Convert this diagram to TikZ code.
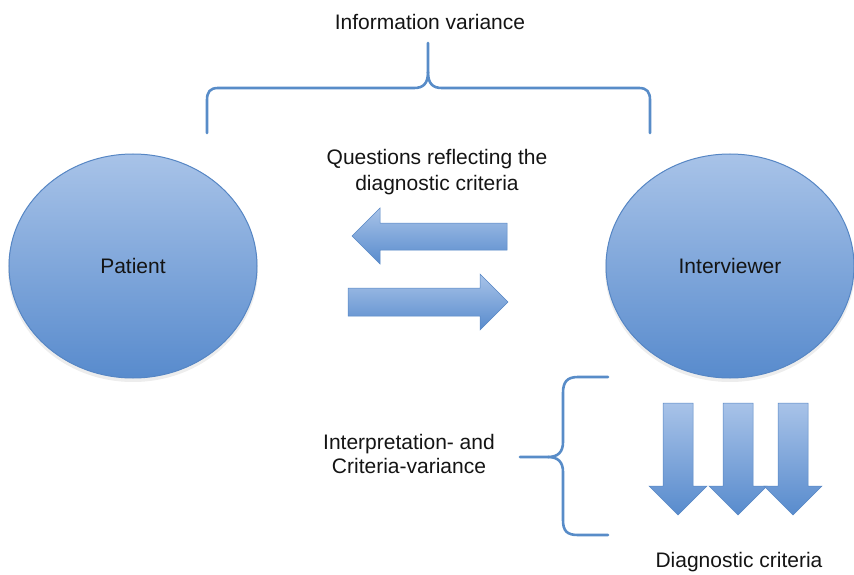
\documentclass[tikz,border=0pt]{standalone}
\usepackage{fontspec}
\setmainfont{Liberation Sans}
\usetikzlibrary{shapes.geometric}
\definecolor{blobtop}{RGB}{168,195,232}
\definecolor{blobbot}{RGB}{88,139,205}
\definecolor{blobline}{RGB}{86,134,196}
\definecolor{bracecol}{RGB}{88,140,200}
\definecolor{ink}{RGB}{20,20,20}
\tikzset{
  blob/.style={ellipse, draw=blobline, line width=1pt, top color=blobtop,
    bottom color=blobbot, minimum width=248pt, minimum height=224pt,
    text=ink, font=\fontsize{21}{25}\selectfont},
  blockarrow/.style={draw=blobline, line width=0.5pt, top color=blobtop,
    bottom color=blobbot},
  bracket/.style={draw=bracecol, line width=2.6pt, line cap=round, line join=round},
  label/.style={text=ink, align=center, inner sep=0pt},
  shade below/.style={fill=black, opacity=0.07},
}
\begin{document}
\begin{tikzpicture}[x=1pt, y=-1pt]
\useasboundingbox (0,0) rectangle (854,575);

% soft shadows under the two participants
\fill[shade below] (133,269) ellipse [x radius=125pt, y radius=113pt];
\fill[shade below] (730,269) ellipse [x radius=125pt, y radius=113pt];

% participants
\node[blob] (patient) at (133,266) {\raisebox{-5pt}{Patient}};
\node[blob] (interviewer) at (730,266) {\raisebox{-5pt}{Interviewer}};

% top label and its brace
\node[label, font=\fontsize{21}{25}\selectfont] (infovar) at (430,22) {Information variance};
\coordinate (topL) at (207,133);
\coordinate (topR) at (650,133);
\coordinate (topTip) at (428,43);
\path[bracket] (topL) -- (207,100) .. controls (207,92) and (210,88) .. (218,88)
  -- (414,88) .. controls (423,88) and (428,84) .. (428,72) -- (topTip);
\path[bracket] (428,72) .. controls (428,84) and (433,88) .. (442,88)
  -- (639,88) .. controls (647,88) and (650,92) .. (650,100) -- (topR);

% question exchange
\node[label, font=\fontsize{21}{26.5}\selectfont] (questions) at (437,172)
  {Questions reflecting the\\diagnostic criteria};

% left-pointing block arrow
\path[blockarrow] (352,236) -- (380,208) -- (380,223) -- (507,223)
  -- (507,250) -- (380,250) -- (380,264) -- cycle;
% right-pointing block arrow
\path[blockarrow] (508,302) -- (480,274) -- (480,288) -- (348,288)
  -- (348,316) -- (480,316) -- (480,330) -- cycle;

% side brace and its label
\node[label, font=\fontsize{21}{23.5}\selectfont] (interp) at (409,454)
  {Interpretation- and\\Criteria-variance};
\coordinate (sideTop) at (608,377);
\coordinate (sideBot) at (608,535);
\coordinate (sideTip) at (520,457);
\path[bracket] (sideTop) -- (578,377) .. controls (567,377) and (563,382) .. (563,393)
  -- (563,442) .. controls (563,452) and (558,457) .. (548,457) -- (sideTip);
\path[bracket] (548,457) .. controls (558,457) and (563,462) .. (563,472)
  -- (563,520) .. controls (563,531) and (567,535) .. (578,535) -- (sideBot);

% three downward block arrows
\foreach \cx in {678,738,793} {
  \path[blockarrow] (\cx,515) -- (\cx-29,486) -- (\cx-15,486) -- (\cx-15,403)
    -- (\cx+15,403) -- (\cx+15,486) -- (\cx+29,486) -- cycle;
}

\node[label, font=\fontsize{21}{25}\selectfont] (diagcrit) at (739,562) {Diagnostic criteria};
\end{tikzpicture}
\end{document}
